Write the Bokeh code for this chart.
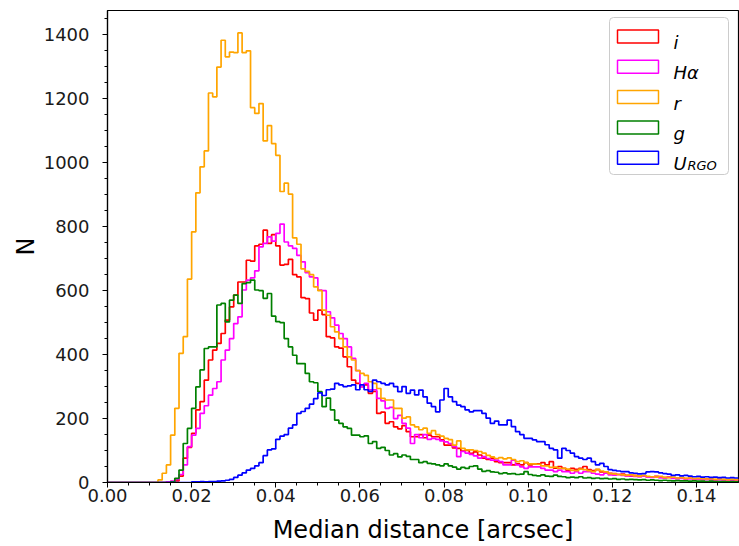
from bokeh.plotting import figure
from bokeh.models import Range1d, BoxAnnotation, Label, SingleIntervalTicker, NumeralTickFormatter
from bokeh.embed import file_html
from bokeh.resources import INLINE

# ---------------- data (histogram counts per 0.001 arcsec bin, 0.000 -> 0.150) ----------------
bin_start = 0.0
bin_width = 0.001

counts_i = [
    0, 0, 0, 0, 0, 0, 0, 0, 0, 0,
    0, 0, 0, 0, 2, 3, 5, 20, 76, 110,
    154, 227, 253, 320, 383, 414, 435, 466, 508, 549,
    586, 627, 627, 695, 692, 740, 745, 789, 748, 775,
    740, 680, 682, 698, 650, 643, 578, 575, 530, 508,
    539, 525, 456, 452, 424, 420, 393, 362, 320, 310,
    300, 305, 279, 285, 216, 220, 185, 190, 174, 168,
    178, 159, 143, 143, 150, 140, 148, 143, 143, 133,
    117, 117, 108, 107, 98, 100, 91, 96, 86, 76,
    72, 76, 65, 62, 62, 62, 55, 58, 55, 62,
    55, 58, 58, 62, 55, 65, 45, 50, 44, 38,
    44, 41, 44, 50, 40, 37, 40, 33, 33, 29,
    28, 25, 26, 22, 20, 22, 19, 21, 18, 17,
    19, 16, 15, 17, 14, 13, 15, 12, 13, 11,
    12, 10, 11, 10, 9, 10, 9, 8, 9, 8,
]

counts_ha = [
    0, 0, 0, 0, 0, 0, 0, 0, 0, 0,
    0, 0, 0, 0, 2, 4, 10, 25, 55, 112,
    148, 169, 216, 240, 273, 294, 315, 383, 414, 450,
    497, 518, 602, 633, 640, 662, 737, 748, 768, 755,
    779, 808, 752, 740, 732, 710, 690, 656, 643, 640,
    602, 600, 534, 515, 492, 466, 450, 424, 388, 350,
    300, 310, 290, 290, 263, 255, 232, 235, 200, 210,
    185, 170, 122, 150, 140, 150, 135, 138, 135, 130,
    127, 122, 112, 81, 97, 92, 88, 83, 76, 81,
    75, 70, 70, 65, 55, 55, 70, 55, 49, 44,
    49, 49, 49, 44, 39, 39, 34, 39, 34, 34,
    29, 34, 29, 34, 34, 29, 26, 24, 29, 24,
    23, 25, 22, 20, 21, 19, 18, 20, 17, 16,
    17, 15, 14, 16, 13, 12, 13, 11, 12, 10,
    11, 10, 9, 10, 8, 9, 8, 8, 7, 8,
]

counts_r = [
    0, 0, 0, 0, 0, 0, 0, 0, 0, 0,
    0, 0, 8, 29, 55, 148, 232, 404, 456, 636,
    784, 906, 987, 1037, 1218, 1206, 1299, 1383, 1331, 1346,
    1344, 1406, 1344, 1350, 1172, 1154, 1185, 1068, 1116, 1060,
    1023, 910, 936, 902, 765, 745, 668, 660, 650, 612,
    600, 539, 523, 487, 471, 450, 424, 393, 383, 350,
    341, 335, 315, 310, 294, 263, 258, 258, 232, 232,
    201, 205, 180, 174, 165, 170, 154, 162, 150, 145,
    138, 134, 117, 130, 107, 102, 102, 100, 97, 92,
    85, 80, 75, 78, 74, 77, 72, 65, 68, 62,
    58, 58, 57, 52, 52, 47, 48, 44, 44, 42,
    38, 37, 42, 40, 37, 34, 41, 36, 33, 28,
    27, 25, 24, 22, 24, 21, 20, 22, 19, 18,
    17, 19, 16, 15, 17, 14, 15, 13, 14, 12,
    13, 12, 11, 12, 10, 11, 10, 9, 10, 9,
]

counts_g = [
    0, 0, 0, 0, 0, 0, 0, 0, 0, 0,
    0, 0, 0, 0, 0, 2, 13, 39, 122, 169,
    232, 299, 352, 419, 424, 424, 555, 560, 502, 570,
    586, 560, 622, 625, 633, 602, 600, 576, 591, 520,
    503, 500, 450, 424, 398, 372, 372, 341, 315, 312,
    284, 237, 264, 227, 195, 185, 174, 169, 148, 148,
    143, 146, 122, 128, 107, 110, 100, 86, 90, 80,
    86, 82, 72, 72, 62, 65, 60, 58, 55, 52,
    58, 52, 48, 42, 47, 44, 50, 52, 42, 35,
    37, 33, 32, 28, 30, 27, 28, 25, 26, 34,
    25, 22, 21, 24, 20, 19, 23, 19, 18, 15,
    17, 15, 18, 14, 15, 13, 14, 12, 13, 11,
    12, 10, 11, 9, 10, 9, 8, 9, 7, 8,
    7, 6, 7, 6, 5, 6, 5, 5, 4, 5,
    4, 4, 3, 4, 3, 3, 3, 2, 3, 2,
]

counts_u = [
    0, 0, 0, 0, 0, 0, 0, 0, 0, 0,
    0, 0, 0, 0, 0, 0, 0, 0, 0, 0,
    2, 2, 3, 2, 3, 3, 4, 5, 7, 10,
    16, 23, 30, 39, 44, 52, 62, 84, 102, 105,
    135, 145, 150, 170, 180, 216, 222, 232, 245, 262,
    280, 272, 290, 292, 310, 305, 300, 302, 305, 290,
    305, 290, 285, 320, 315, 310, 305, 310, 300, 284,
    300, 279, 289, 274, 289, 268, 248, 237, 221, 258,
    294, 268, 253, 242, 237, 227, 221, 225, 225, 216,
    201, 185, 192, 180, 180, 195, 175, 159, 150, 138,
    138, 133, 128, 128, 118, 107, 102, 76, 107, 100,
    92, 81, 76, 72, 76, 65, 55, 60, 50, 40,
    38, 36, 34, 34, 30, 29, 27, 28, 33, 34,
    33, 30, 28, 26, 22, 24, 21, 22, 20, 18,
    19, 17, 18, 16, 17, 15, 16, 14, 15, 14,
]

series_names = ["i", "H\u03b1", "r", "g", "U"]
series_subscripts = ["", "", "", "", "RGO"]
series_colors = ["#ff0000", "#ff00ff", "#ffa500", "#008000", "#0000ff"]
series_counts = [counts_i, counts_ha, counts_r, counts_g, counts_u]

x_label = "Median distance [arcsec]"
y_label = "N"

# ---------------- figure ----------------
FONT = "DejaVu Sans"
p = figure(width=739, height=546, output_backend="svg", toolbar_location=None,
           x_range=Range1d(0, 0.15), y_range=Range1d(0, 1476),
           min_border_left=107, min_border_right=1, min_border_top=10, min_border_bottom=63)
p.grid.visible = False
p.background_fill_color = "white"
p.border_fill_color = "white"
p.outline_line_color = "black"
p.outline_line_width = 1.2

for name, color, counts in zip(series_names, series_colors, series_counts):
    n = len(counts)
    edges = [bin_start + k * bin_width for k in range(n + 1)]
    ys = list(counts) + [counts[-1]]
    p.step(x=edges, y=ys, mode="after", line_color=color, line_width=1.7)

# axes
p.xaxis.ticker = SingleIntervalTicker(interval=0.02, num_minor_ticks=4)
p.yaxis.ticker = SingleIntervalTicker(interval=200, num_minor_ticks=4)
p.xaxis.formatter = NumeralTickFormatter(format="0.00")
for ax in (p.xaxis[0], p.yaxis[0]):
    ax.axis_line_color = "black"
    ax.axis_line_width = 1.2
    ax.major_tick_line_color = "black"
    ax.minor_tick_line_color = "black"
    ax.major_tick_in = 0
    ax.major_tick_out = 5
    ax.minor_tick_in = 0
    ax.minor_tick_out = 3
    ax.major_label_text_font = FONT
    ax.major_label_text_font_size = "18px"
    ax.major_label_text_color = "#1a1a1a"
    ax.axis_label_text_font = FONT
    ax.axis_label_text_font_size = "24px"
    ax.axis_label_text_font_style = "normal"
    ax.axis_label_text_color = "black"
p.xaxis.axis_label = x_label
p.yaxis.axis_label = y_label
p.xaxis.major_label_standoff = 1
p.yaxis.major_label_standoff = 13
p.xaxis.axis_label_standoff = 11
p.yaxis.axis_label_standoff = 1

# ---------------- legend (screen units, relative to the plot frame) ----------------
box_left, box_right, box_bottom, box_top = 502, 621, 308, 465
p.add_layout(BoxAnnotation(left=box_left, right=box_right, bottom=box_bottom, top=box_top,
                           left_units="screen", right_units="screen",
                           bottom_units="screen", top_units="screen",
                           fill_color="white", fill_alpha=0.8,
                           line_color="#cccccc", line_alpha=1.0, line_width=1, border_radius=4))
row_top = 446
row_pitch = 30.3
for idx, (name, sub, color) in enumerate(zip(series_names, series_subscripts, series_colors)):
    cy = row_top - idx * row_pitch
    p.add_layout(BoxAnnotation(left=box_left + 8, right=box_left + 49, bottom=cy - 6.5, top=cy + 6.5,
                               left_units="screen", right_units="screen",
                               bottom_units="screen", top_units="screen",
                               fill_alpha=0, line_color=color, line_alpha=1.0, line_width=1.5))
    p.add_layout(Label(x=box_left + 64, y=cy - 6, x_units="screen", y_units="screen",
                       text=name, text_font=FONT, text_font_size="18px", text_color="black",
                       text_font_style="italic", text_baseline="alphabetic", text_align="left"))
    if sub:
        p.add_layout(Label(x=box_left + 78, y=cy - 8, x_units="screen", y_units="screen",
                           text=sub, text_font=FONT, text_font_size="13px", text_color="black",
                           text_font_style="italic", text_baseline="alphabetic", text_align="left"))

open("out.html", "w").write(file_html(p, INLINE))
